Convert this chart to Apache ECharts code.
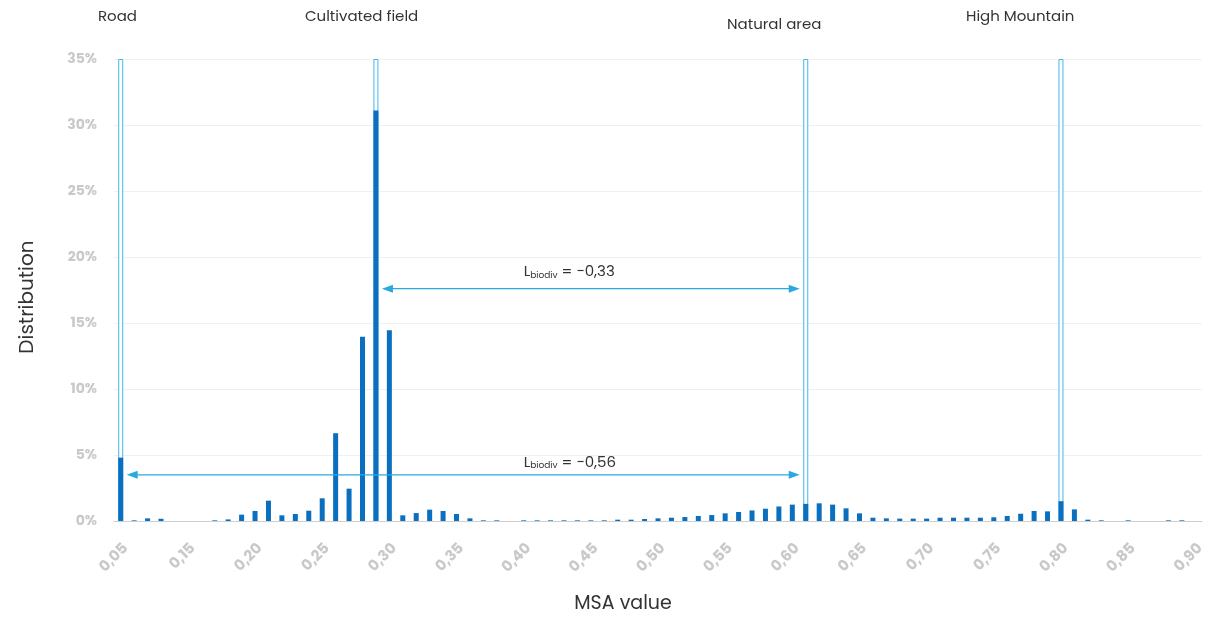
<!DOCTYPE html>
<html>
<head>
<meta charset="utf-8">
<script src="https://cdn.jsdelivr.net/npm/echarts@6/dist/echarts.min.js"></script>
<style>
html,body{margin:0;padding:0;background:#fff;}
#chart{width:1214px;height:619px;}
</style>
</head>
<body>
<div id="chart"></div>
<script>
// ---- data ----
const categories = [
  '0,05','0,11','0,12','0,13','0,14','0,15','0,16','0,17','0,18','0,19',
  '0,20','0,21','0,22','0,23','0,24','0,25','0,26','0,27','0,28','0,29',
  '0,30','0,31','0,32','0,33','0,34','0,35','0,36','0,37','0,38','0,39',
  '0,40','0,41','0,42','0,43','0,44','0,45','0,46','0,47','0,48','0,49',
  '0,50','0,51','0,52','0,53','0,54','0,55','0,56','0,57','0,58','0,59',
  '0,60','0,61','0,62','0,63','0,64','0,65','0,66','0,67','0,68','0,69',
  '0,70','0,71','0,72','0,73','0,74','0,75','0,76','0,77','0,78','0,79',
  '0,80','0,81','0,82','0,83','0,84','0,85','0,86','0,87','0,88','0,89',
  '0,90'
];
const binValues = [
  4.8, 0.05, 0.2, 0.17, 0, 0, 0, 0.05, 0.12, 0.48,
  0.76, 1.54, 0.43, 0.53, 0.78, 1.72, 6.65, 2.45, 13.95, 31.1,
  14.45, 0.43, 0.6, 0.86, 0.76, 0.53, 0.2, 0.05, 0.05, 0,
  0.05, 0.05, 0.05, 0.05, 0.05, 0.05, 0.05, 0.1, 0.1, 0.15,
  0.2, 0.25, 0.3, 0.38, 0.45, 0.58, 0.68, 0.8, 0.93, 1.1,
  1.24, 1.3, 1.34, 1.24, 0.96, 0.58, 0.25, 0.2, 0.18, 0.18,
  0.18, 0.25, 0.25, 0.25, 0.25, 0.28, 0.38, 0.55, 0.76, 0.73,
  1.5, 0.88, 0.1, 0.05, 0, 0.05, 0, 0, 0.05, 0.05,
  0
];
const yTicks = [0, 5, 10, 15, 20, 25, 30, 35];

const zoneNames = ['Road', 'Cultivated field', 'Natural area', 'High Mountain'];
const zoneBins = ['0,05', '0,29', '0,61', '0,80'];
const zoneTop = 35;

const arrowFrom = [19, 0];
const arrowTo = [51, 51];
const arrowY = [17.6, 3.5];
const arrowLabelBin = [30, 30];
const arrowLabelY = [19.0, 4.6];
const arrowText = ['−0,33', '−0,56'];

// ---- build ----
const outlineData = categories.map(c => zoneBins.indexOf(c) >= 0 ? zoneTop : '-');
const arrowData = arrowFrom.map((f, i) => [f, arrowTo[i], arrowY[i], arrowLabelBin[i], arrowLabelY[i]]);

const FONT = 'Poppins, Inter, "Open Sans", sans-serif';
const ARROW = '#2aa9e0';
const LIGHT = '#c9c9c9';

const chart = echarts.init(document.getElementById('chart'), null, {renderer: 'canvas'});
const option = {
  animation: false,
  backgroundColor: '#fff',
  grid: [
    {left: 114, right: 12, top: 59, bottom: 98},
    {left: 114, right: 82, top: 59, bottom: 98}
  ],
  xAxis: [
    {
      type: 'category', gridIndex: 0, data: categories,
      axisLine: {lineStyle: {color: '#cfcfcf'}},
      axisTick: {show: false},
      axisLabel: {rotate: 45, interval: 4, color: LIGHT, fontWeight: 'bold', fontSize: 15, fontFamily: FONT, margin: 20, verticalAlign: 'top'}
    },
    {
      type: 'category', gridIndex: 1, data: ['MSA'],
      axisLine: {show: false}, axisTick: {show: false}, axisLabel: {show: false},
      name: 'MSA value', nameLocation: 'middle', nameGap: 86,
      nameTextStyle: {color: '#333', fontSize: 19, fontFamily: FONT, padding: [8, 0, 0, 0]}
    }
  ],
  yAxis: [
    {
      type: 'value', gridIndex: 0, min: yTicks[0], max: yTicks[yTicks.length - 1], interval: 5,
      axisLine: {show: false}, axisTick: {show: false},
      axisLabel: {formatter: '{value}%', color: LIGHT, fontWeight: 'bold', fontSize: 14, fontFamily: FONT, margin: 17},
      splitLine: {lineStyle: {color: '#f0f0f0'}},
      name: 'Distribution', nameLocation: 'middle', nameGap: 76,
      nameTextStyle: {color: '#333', fontSize: 20, fontFamily: FONT, padding: [0, 14, 0, 0]}
    },
    {type: 'value', gridIndex: 1, min: 0, max: 35, show: false}
  ],
  series: [
    {
      type: 'bar', xAxisIndex: 0, yAxisIndex: 0, data: outlineData,
      barWidth: 5, barGap: '-100%',
      itemStyle: {color: '#ffffff', borderColor: '#45b6e8', borderWidth: 1},
      z: 2
    },
    {
      type: 'bar', xAxisIndex: 0, yAxisIndex: 0, data: binValues,
      barWidth: 5, barGap: '-100%',
      itemStyle: {color: '#0a6fbf'},
      z: 3
    },
    {
      type: 'custom', xAxisIndex: 0, yAxisIndex: 0, data: arrowData,
      encode: {x: 0, y: 2}, z: 5, clip: false,
      renderItem: function (params, api) {
        const p1 = api.coord([api.value(0), api.value(2)]);
        const p2 = api.coord([api.value(1), api.value(2)]);
        const tp = api.coord([api.value(3), api.value(4)]);
        const lx = p1[0] + 6, rx = p2[0] - 6, yy = p1[1];
        return {
          type: 'group',
          children: [
            {type: 'line', shape: {x1: lx + 6, y1: yy, x2: rx - 6, y2: yy}, style: {stroke: ARROW, lineWidth: 1.3}},
            {type: 'polygon', shape: {points: [[lx, yy], [lx + 11, yy - 4], [lx + 11, yy + 4]]}, style: {fill: ARROW}},
            {type: 'polygon', shape: {points: [[rx, yy], [rx - 11, yy - 4], [rx - 11, yy + 4]]}, style: {fill: ARROW}},
            {
              type: 'text', x: tp[0], y: tp[1],
              style: {
                text: '{a|L}{b|biodiv}{a| = ' + arrowText[params.dataIndex] + '}',
                verticalAlign: 'middle', align: 'left',
                rich: {
                  a: {fontSize: 15, fontFamily: FONT, fill: '#333', lineHeight: 20, verticalAlign: 'bottom'},
                  b: {fontSize: 9, fontFamily: FONT, fill: '#333', lineHeight: 20, verticalAlign: 'bottom', padding: [10, 0, 0, 0]}
                }
              }
            }
          ]
        };
      }
    }
  ],
  graphic: [
    {type: 'text', left: 98, top: 10, style: {text: zoneNames[0], fontSize: 15, fontFamily: FONT, fill: '#333'}},
    {type: 'text', left: 305, top: 10, style: {text: zoneNames[1], fontSize: 15, fontFamily: FONT, fill: '#333'}},
    {type: 'text', left: 727, top: 18, style: {text: zoneNames[2], fontSize: 15, fontFamily: FONT, fill: '#333'}},
    {type: 'text', left: 966, top: 10, style: {text: zoneNames[3], fontSize: 15, fontFamily: FONT, fill: '#333'}}
  ]
};
chart.setOption(option);
</script>
</body>
</html>
